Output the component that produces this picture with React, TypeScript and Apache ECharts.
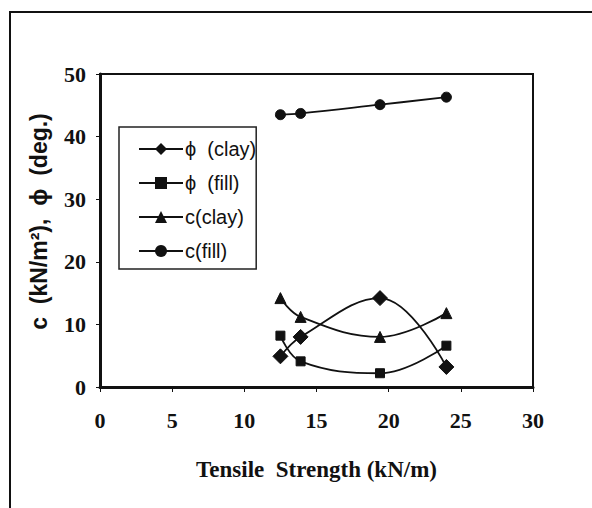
import React, { useEffect, useRef } from "react";
import * as echarts from "echarts";

const xValues = [12.5, 13.9, 19.4, 24];
const phiClay = [4.9, 8, 14.2, 3.2];
const phiFill = [8.2, 4.1, 2.2, 6.6];
const cClay = [14.2, 11.2, 8, 11.8];
const cFill = [43.5, 43.7, 45.1, 46.3];
const xTicks = [0, 5, 10, 15, 20, 25, 30];
const yTicks = [0, 10, 20, 30, 40, 50];

const seriesDefs = [
  { name: "ϕ  (clay)", data: phiClay, symbol: "diamond", size: 15 },
  { name: "ϕ  (fill)", data: phiFill, symbol: "rect", size: 9 },
  { name: "c(clay)", data: cClay, symbol: "triangle", size: 11 },
  { name: "c(fill)", data: cFill, symbol: "circle", size: 10 },
];

export default function App() {
  const ref = useRef<HTMLDivElement>(null);
  useEffect(() => {
    if (!ref.current) return;
    const chart = echarts.init(ref.current, undefined, { renderer: "svg" });
    const serif = "Liberation Serif";
    const sans = "Liberation Sans";
    chart.setOption({
      animation: false,
      backgroundColor: "#ffffff",
      grid: {
        left: 100,
        right: 59,
        top: 74,
        bottom: 121,
        show: true,
        borderColor: "#111",
        borderWidth: 2,
      },
      xAxis: {
        type: "value",
        min: xTicks[0],
        max: xTicks[xTicks.length - 1],
        interval: 5,
        axisLine: { lineStyle: { color: "#111", width: 3 } },
        axisTick: { show: true, inside: false, length: 5, lineStyle: { color: "#111" } },
        splitLine: { show: false },
        axisLabel: {
          margin: 22,
          color: "#111",
          fontFamily: serif,
          fontWeight: "bold",
          fontSize: 22,
        },
        name: "Tensile  Strength (kN/m)",
        nameLocation: "middle",
        nameGap: 71,
        nameTextStyle: { color: "#111", fontFamily: serif, fontWeight: "bold", fontSize: 23 },
      },
      yAxis: {
        type: "value",
        min: yTicks[0],
        max: yTicks[yTicks.length - 1],
        interval: 10,
        axisLine: { show: true, lineStyle: { color: "#111", width: 3 } },
        axisTick: { show: true, inside: false, length: 4, lineStyle: { color: "#111" } },
        splitLine: { show: false },
        axisLabel: {
          margin: 14,
          color: "#111",
          fontFamily: serif,
          fontWeight: "bold",
          fontSize: 22,
        },
        name: "c  (kN/m²),  ϕ  (deg.)",
        nameLocation: "middle",
        nameGap: 50,
        nameTextStyle: {
          color: "#111",
          fontFamily: sans,
          fontWeight: "bold",
          fontSize: 23,
          padding: [0, 0, 0, 18],
        },
      },
      legend: {
        orient: "vertical",
        left: 119,
        top: 127,
        padding: [12, 0, 8, 19],
        itemGap: 14,
        itemWidth: 44,
        itemHeight: 15,
        borderColor: "#222",
        borderWidth: 1.5,
        textStyle: { color: "#111", fontFamily: sans, fontSize: 20, padding: [0, 0, 0, -3] },
        data: seriesDefs.map((s) => s.name),
      },
      series: seriesDefs.map((s) => ({
        name: s.name,
        type: "line",
        smooth: 0.4,
        data: xValues.map((x, i) => [x, s.data[i]]),
        symbol: s.symbol,
        symbolSize: s.size,
        showSymbol: true,
        lineStyle: { color: "#111", width: 1.8 },
        itemStyle: { color: "#111", borderColor: "#111" },
      })),
      graphic: [
        {
          type: "polyline",
          shape: { points: [[10, 508], [10, 12], [592, 12]] },
          style: { stroke: "#111", lineWidth: 2, fill: null },
        },
      ],
    });
    return () => chart.dispose();
  }, []);
  return (
    <div
      ref={ref}
      style={{ position: "absolute", left: 0, top: 0, width: 592, height: 508 }}
    />
  );
}
